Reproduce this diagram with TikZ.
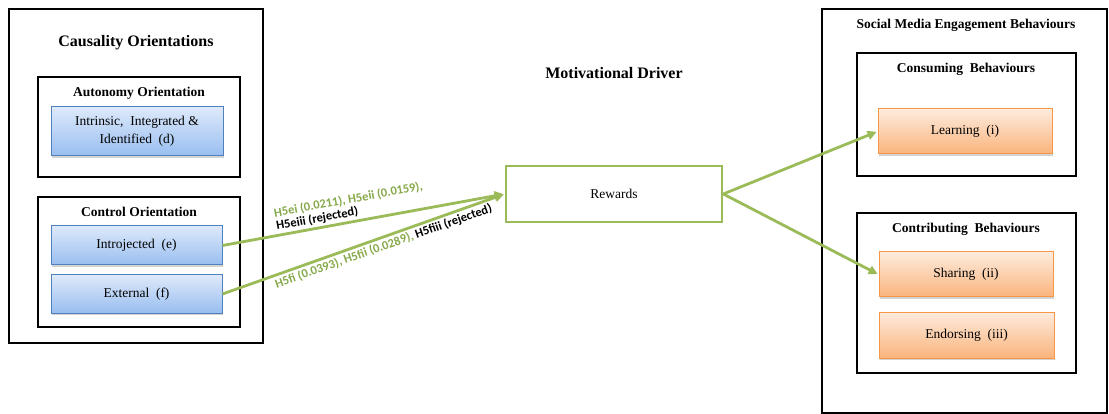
\documentclass[tikz,border=0pt]{standalone}
\usepackage{fontspec}
\setmainfont{Liberation Serif}
\newfontfamily\labelfont{Carlito}
\usepackage{xcolor}
\usetikzlibrary{arrows.meta,shadows}
\definecolor{linkgreen}{HTML}{9BBB59}
\definecolor{labelgreen}{HTML}{86A94A}
\definecolor{blueedge}{HTML}{4F81BD}
\definecolor{bluetop}{HTML}{DEE9FA}
\definecolor{bluebottom}{HTML}{98BEF0}
\definecolor{orangeedge}{HTML}{F79646}
\definecolor{orangetop}{HTML}{FDEBDD}
\definecolor{orangebottom}{HTML}{FAB47C}

\begin{document}
\begin{tikzpicture}[x=1pt, y=-1pt, >={Triangle[length=9pt,width=9pt]},
  outerbox/.style={draw, line width=2.4pt, inner sep=0pt},
  groupbox/.style={draw, line width=2.9pt, inner sep=0pt},
  title/.style={font=\bfseries\fontsize{16}{18}\selectfont},
  subtitle/.style={font=\bfseries\fontsize{13.5}{15}\selectfont},
  bluebox/.style={draw=blueedge, line width=1pt, top color=bluetop, bottom color=bluebottom,
    drop shadow={opacity=0.35, shadow xshift=1.2pt, shadow yshift=-1.6pt},
    inner sep=0pt, align=center, font=\fontsize{13.5}{18}\selectfont},
  orangebox/.style={draw=orangeedge, line width=1pt, top color=orangetop, bottom color=orangebottom,
    drop shadow={opacity=0.35, shadow xshift=1.2pt, shadow yshift=-1.6pt},
    inner sep=0pt, align=center, font=\fontsize{13.5}{16}\selectfont},
  link/.style={->, draw=linkgreen, line width=2.8pt, shorten >=1pt},
  hyp/.style={font=\labelfont\bfseries\fontsize{12.5}{13}\selectfont, inner sep=1pt}]
\useasboundingbox (0,0) rectangle (1109,414);

% left block
\node[outerbox, minimum width=254, minimum height=334] (causal) at (136,176) {};
\node[title] (causaltitle) at (136,43) {Causality Orientations};
\node[groupbox, minimum width=202, minimum height=100] (autonomy) at (139,127) {};
\node[subtitle] (autonomytitle) at (139,93) {Autonomy Orientation};
\node[bluebox, minimum width=172, minimum height=49] (intrinsic) at (137,131.5) {Intrinsic,\ \ Integrated \&\\Identified\ \ (d)};
\node[groupbox, minimum width=202, minimum height=130] (control) at (139,262) {};
\node[subtitle] (controltitle) at (139,212) {Control Orientation};
\node[bluebox, minimum width=171, minimum height=39] (introjected) at (136.5,245.5) {Introjected\ \ (e)};
\node[bluebox, minimum width=171, minimum height=38] (external) at (136.5,294) {External\ \ (f)};

% middle
\node[title] (drivertitle) at (614,73) {Motivational Driver};
\node[draw=linkgreen, line width=2.6pt, minimum width=216, minimum height=56, inner sep=0pt,
  font=\fontsize{13.5}{16}\selectfont] (rewards) at (614,194) {Rewards};

% right block
\node[outerbox, minimum width=285, minimum height=404] (engage) at (964.5,211) {};
\node[subtitle] (engagetitle) at (966,25) {Social Media Engagement Behaviours};
\node[groupbox, minimum width=219, minimum height=123] (consuming) at (966.5,114.5) {};
\node[subtitle] (consumingtitle) at (966,69) {Consuming\ \ Behaviours};
\node[orangebox, minimum width=174, minimum height=45] (learning) at (965,131.5) {Learning\ \ (i)};
\node[groupbox, minimum width=219, minimum height=160] (contributing) at (966.5,293) {};
\node[subtitle] (contributingtitle) at (966,229) {Contributing\ \ Behaviours};
\node[orangebox, minimum width=174, minimum height=45] (sharing) at (966,274.5) {Sharing\ \ (ii)};
\node[orangebox, minimum width=175, minimum height=46] (endorsing) at (966.5,335) {Endorsing\ \ (iii)};

% arrows
\draw[link] (introjected.east) -- (rewards.west)
  node[hyp, pos=0.46, above=1pt, sloped, align=left] (hypE)
  {\textcolor{labelgreen}{H5ei (0.0211), H5eii (0.0159),}\\H5eiii (rejected)};
\draw[link] (external.east) -- (rewards.west)
  node[hyp, pos=0.56, below=1pt, sloped] (hypF)
  {\textcolor{labelgreen}{H5fi (0.0393), H5fii (0.0289),} H5fiii (rejected)};
\draw[link] (rewards.east) -- (learning.west);
\draw[link] (rewards.east) -- (sharing.west);
\end{tikzpicture}
\end{document}
